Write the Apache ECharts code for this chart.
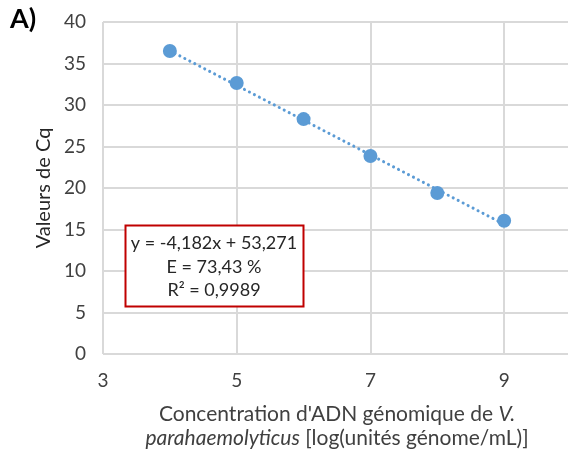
<!DOCTYPE html>
<html><head><meta charset="utf-8">
<script src="https://cdn.jsdelivr.net/npm/echarts@6/dist/echarts.min.js"></script>
<style>html,body{margin:0;padding:0;background:#fff;overflow:hidden}#c{width:568px;height:457px}</style>
</head><body><div id="c"></div>
<script>
const concentrations = [4, 5, 6, 7, 8, 9];
const cqValues = [36.5, 32.65, 28.3, 23.85, 19.4, 16.05];
const trendX = [4, 9];
const trendY = [36.54, 15.63];
const xTicks = [3, 5, 7, 9];
const equationLines = ['y = -4,182x + 53,271', 'E = 73,43 %', 'R² = 0,9989'];
const panelLabel = 'A)';
const yTitle = 'Valeurs de Cq';

const FONT = 'Lato';
const chart = echarts.init(document.getElementById('c'));
chart.setOption({
  animation: false,
  textStyle: { fontFamily: FONT },
  grid: { left: 103, top: 22, bottom: 103, right: -3, containLabel: false, outerBoundsMode: 'none' },
  xAxis: {
    type: 'value', min: 3, max: 10, interval: 2,
    axisLine: { show: false }, axisTick: { show: false },
    splitLine: { show: true, lineStyle: { color: '#d9d9d9', width: 2 } },
    axisLabel: { color: '#404040', fontSize: 19, fontFamily: FONT, margin: 17,
      formatter: v => xTicks.includes(v) ? String(v) : '' },
    name: '{n|Concentration d\'ADN génomique de }{i|V.}\n{i|parahaemolyticus}{n| [log(unités génome/mL)]}',
    nameLocation: 'middle', nameGap: 48,
    nameTextStyle: {
      align: 'center',
      rich: {
        n: { fontSize: 21, color: '#404040', fontFamily: FONT, lineHeight: 24 },
        i: { fontSize: 21, color: '#404040', fontFamily: FONT, fontStyle: 'italic', lineHeight: 24 }
      }
    }
  },
  yAxis: {
    type: 'value', min: 0, max: 40, interval: 5,
    axisLine: { show: false }, axisTick: { show: false },
    splitLine: { show: true, lineStyle: { color: '#d9d9d9', width: 2 } },
    axisLabel: { color: '#404040', fontSize: 19, fontFamily: FONT, margin: 17 },
    name: yTitle, nameLocation: 'middle', nameGap: 49,
    nameTextStyle: { color: '#262626', fontSize: 20, fontFamily: FONT }
  },
  series: [
    {
      type: 'line', data: trendX.map((x, i) => [x, trendY[i]]),
      symbol: 'none', lineStyle: { color: '#5b9bd5', width: 3, type: [0.1, 5.5], cap: 'round' },
      z: 2
    },
    {
      type: 'scatter', data: concentrations.map((x, i) => [x, cqValues[i]]),
      symbol: 'circle', symbolSize: 14,
      itemStyle: { color: '#5b9bd5', opacity: 1 }, z: 3
    }
  ],
  graphic: [
    { type: 'text', left: 10, top: 6, style: { text: panelLabel, font: 'bold 27px ' + FONT, fill: '#000' } },
    { type: 'rect', shape: { x: 125.5, y: 225.5, width: 178, height: 81 },
      style: { fill: '#fff', stroke: '#c00000', lineWidth: 2 }, z: 10 },
    { type: 'text', x: 214, y: 243, z: 11, style: { text: equationLines[0], font: '18px ' + FONT, fill: '#262626', align: 'center', verticalAlign: 'middle' } },
    { type: 'text', x: 214, y: 267, z: 11, style: { text: equationLines[1], font: '18px ' + FONT, fill: '#262626', align: 'center', verticalAlign: 'middle' } },
    { type: 'text', x: 214, y: 290, z: 11, style: { text: equationLines[2], font: '18px ' + FONT, fill: '#262626', align: 'center', verticalAlign: 'middle' } }
  ]
});
</script></body></html>
